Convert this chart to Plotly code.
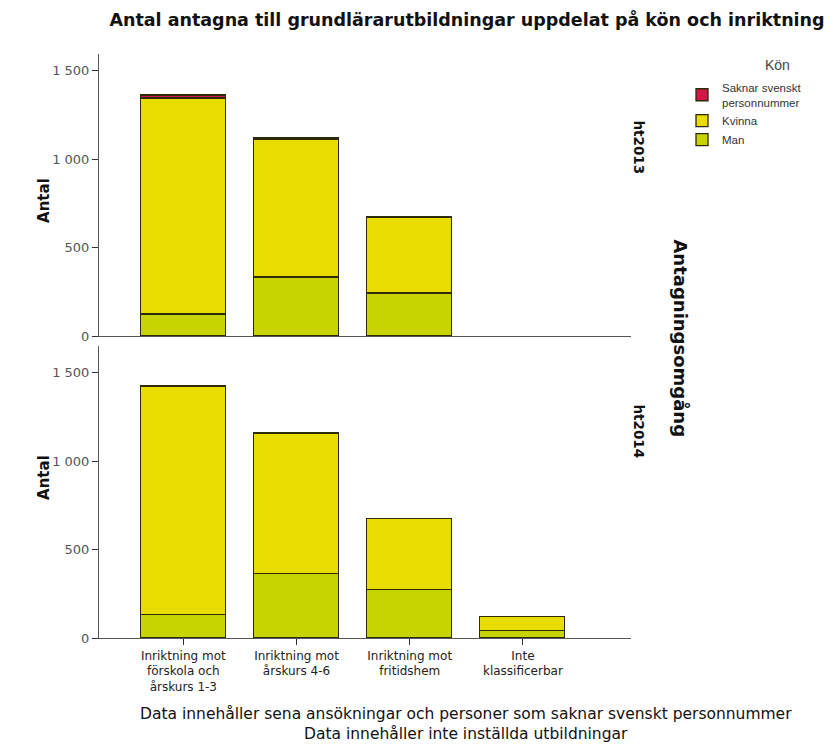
import plotly.graph_objects as go
from plotly.subplots import make_subplots

categories = ["Inriktning mot<br>förskola och<br>årskurs 1-3", "Inriktning mot<br>årskurs 4-6",
              "Inriktning mot<br>fritidshem", "Inte<br>klassificerbar"]
rounds = ["ht2013", "ht2014"]

man_2013 = [126, 332, 240, None]
kvinna_2013 = [1220, 781, 430, None]
saknar_2013 = [15, 3, None, None]

man_2014 = [130, 358, 270, 41]
kvinna_2014 = [1284, 792, 403, 76]
saknar_2014 = [6, 4, None, None]

y_ticks = [0, 500, 1000, 1500]
y_tick_text = ["0", "500", "1 000", "1 500"]

W, H = 838, 749
FONT = "DejaVu Sans"
FONT2 = "Liberation Sans"
C_MAN = "#c8d400"
C_KVINNA = "#e9dc00"
C_SAKNAR = "#d3154a"
OUTLINE = "#2e2a08"

fig = make_subplots(rows=2, cols=1, shared_xaxes=False, vertical_spacing=0.0)

series = [("Man", C_MAN, man_2013, man_2014),
          ("Kvinna", C_KVINNA, kvinna_2013, kvinna_2014),
          ("Saknar svenskt<br>personnummer", C_SAKNAR, saknar_2013, saknar_2014)]

for name, col, v13, v14 in series:
    for row, vals in ((1, v13), (2, v14)):
        fig.add_trace(go.Bar(x=categories, y=vals, name=name, marker_color=col,
                             marker_line=dict(color=OUTLINE, width=1.3), width=0.75,
                             showlegend=(row == 1), legendgroup=name), row=row, col=1)

def px_x(p):
    return p / W

def px_y(p):
    return 1 - p / H

fig.update_layout(barmode="stack", width=W, height=H, margin=dict(l=0, r=0, t=0, b=0),
                  paper_bgcolor="white", plot_bgcolor="white", bargap=0,
                  font=dict(family=FONT, size=12, color="#333333"))

axis_common = dict(showline=True, linecolor="#555555", linewidth=1, showgrid=False, zeroline=False)
fig.update_xaxes(domain=[px_x(91), px_x(623)], type="category", range=[-0.745, 3.955], **axis_common)
fig.update_xaxes(showticklabels=False, ticks="", row=1, col=1)
fig.update_xaxes(ticks="outside", ticklen=6, tickcolor="#333333",
                 tickfont=dict(size=12, color="#222222", family=FONT), row=2, col=1)

fig.update_yaxes(ticks="outside", ticklen=6, tickcolor="#333333", tickvals=y_ticks, ticktext=y_tick_text,
                 tickfont=dict(size=13, color="#555555", family=FONT), **axis_common)
fig.update_yaxes(domain=[px_y(332), px_y(46)], range=[0, 1598], row=1, col=1)
fig.update_yaxes(domain=[px_y(637), px_y(342)], range=[0, 1648], row=2, col=1)

fig.update_layout(
    title=dict(text="<b>Antal antagna till grundlärarutbildningar uppdelat på kön och inriktning</b>",
               x=px_x(459), xanchor="center", y=px_y(12), yanchor="middle",
               font=dict(size=17.5, color="#111111", family=FONT)),
    legend=dict(x=px_x(674), y=px_y(66), xanchor="left", yanchor="top",
                traceorder="reversed", font=dict(size=11.5, color="#333333", family=FONT2),
                itemwidth=30, tracegroupgap=0, bgcolor="rgba(0,0,0,0)"),
)

annos = [
    dict(text="Kön", x=px_x(769), y=px_y(58), font=dict(size=14, color="#444444", family=FONT2)),
    dict(text="<b>Antal</b>", x=px_x(36), y=px_y(195), textangle=-90, font=dict(size=15, color="#111111")),
    dict(text="<b>Antal</b>", x=px_x(36), y=px_y(475), textangle=-90, font=dict(size=15, color="#111111")),
    dict(text="<b>ht2013</b>", x=px_x(631), y=px_y(141), textangle=90, font=dict(size=13.5, color="#111111")),
    dict(text="<b>ht2014</b>", x=px_x(631), y=px_y(428), textangle=90, font=dict(size=13.5, color="#111111")),
    dict(text="<b>Antagningsomgång</b>", x=px_x(673), y=px_y(334), textangle=90,
         font=dict(size=18, color="#111111")),
    dict(text="Data innehåller sena ansökningar och personer som saknar svenskt personnummer",
         x=px_x(458), y=px_y(714), font=dict(size=15.5, color="#111111")),
    dict(text="Data innehåller inte inställda utbildningar",
         x=px_x(458), y=px_y(734), font=dict(size=15.5, color="#111111")),
]
for a in annos:
    fig.add_annotation(xref="paper", yref="paper", showarrow=False, xanchor="center", yanchor="middle", **a)

fig.write_html("out.html")
